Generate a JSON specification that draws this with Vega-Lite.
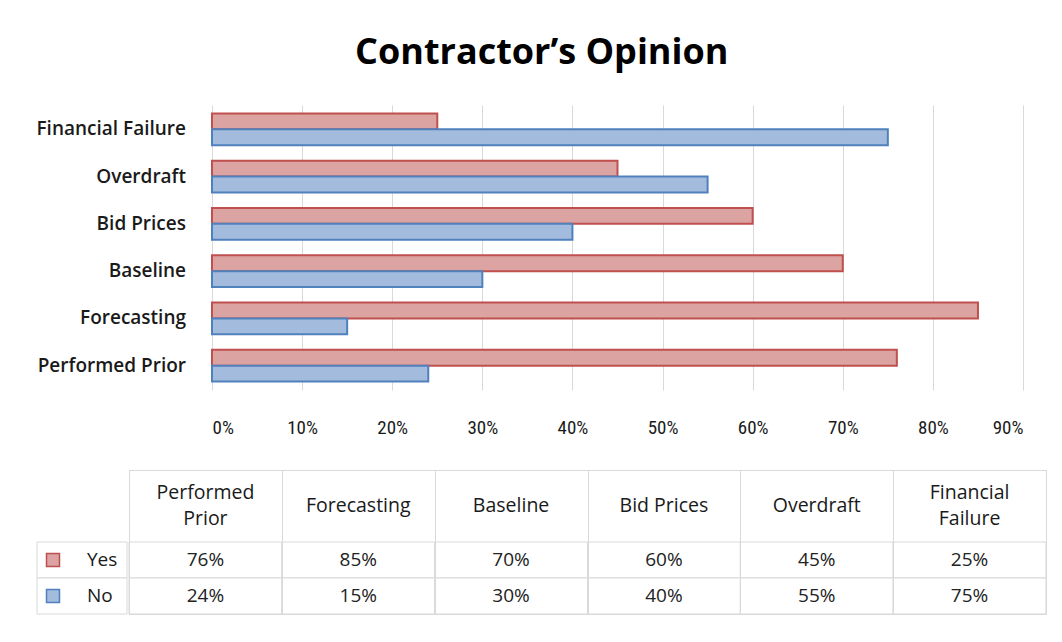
{
  "$schema": "https://vega.github.io/schema/vega-lite/v6.json",
  "background": "white",
  "padding": {"left": 36, "top": 35, "right": 10, "bottom": 10},
  "config": {"font": "Open Sans", "view": {"stroke": null}},
  "title": {"text": "Contractor’s Opinion", "fontSize": 36, "fontWeight": "bold", "color": "#000000", "anchor": "middle", "offset": 33, "font": "Open Sans"},
  "datasets": {
    "survey": [
      {"category": "Performed Prior", "series": "Yes", "value": 0.76},
      {"category": "Performed Prior", "series": "No", "value": 0.24},
      {"category": "Forecasting", "series": "Yes", "value": 0.85},
      {"category": "Forecasting", "series": "No", "value": 0.15},
      {"category": "Baseline", "series": "Yes", "value": 0.70},
      {"category": "Baseline", "series": "No", "value": 0.30},
      {"category": "Bid Prices", "series": "Yes", "value": 0.60},
      {"category": "Bid Prices", "series": "No", "value": 0.40},
      {"category": "Overdraft", "series": "Yes", "value": 0.45},
      {"category": "Overdraft", "series": "No", "value": 0.55},
      {"category": "Financial Failure", "series": "Yes", "value": 0.25},
      {"category": "Financial Failure", "series": "No", "value": 0.75}
    ],
    "headers1": [
      {"category": "Forecasting", "label": "Forecasting"},
      {"category": "Baseline", "label": "Baseline"},
      {"category": "Bid Prices", "label": "Bid Prices"},
      {"category": "Overdraft", "label": "Overdraft"}
    ],
    "headers2": [
      {"category": "Performed Prior", "label": "Performed\nPrior"},
      {"category": "Financial Failure", "label": "Financial\nFailure"}
    ]
  },
  "spacing": 32,
  "vconcat": [
    {
      "spacing": 0,
      "hconcat": [
        {
          "width": 174,
          "height": 285,
          "data": {"name": "survey"},
          "transform": [{"filter": "datum.series === 'Yes'"}],
          "mark": {"type": "text", "x": "width", "dx": -25, "align": "right", "baseline": "middle", "fontSize": 19, "fontWeight": 600, "color": "#1a1a1a"},
          "encoding": {
            "y": {
              "field": "category", "type": "nominal",
              "sort": ["Financial Failure", "Overdraft", "Bid Prices", "Baseline", "Forecasting", "Performed Prior"],
              "scale": {"type": "band", "paddingInner": 0.33, "paddingOuter": 0.18},
              "axis": null
            },
            "text": {"field": "category", "type": "nominal"}
          }
        },
        {
          "width": 811,
          "height": 285,
          "data": {"name": "survey"},
          "mark": {"type": "bar", "strokeWidth": 2},
          "encoding": {
            "y": {
              "field": "category", "type": "nominal",
              "sort": ["Financial Failure", "Overdraft", "Bid Prices", "Baseline", "Forecasting", "Performed Prior"],
              "scale": {"paddingInner": 0.33, "paddingOuter": 0.18},
              "axis": null
            },
            "yOffset": {"field": "series", "type": "nominal", "sort": ["Yes", "No"], "scale": {"paddingInner": 0, "paddingOuter": 0}},
            "x": {
              "field": "value", "type": "quantitative",
              "scale": {"domain": [0, 0.9], "nice": false},
              "axis": {"title": null, "format": ".0%", "values": [0, 0.1, 0.2, 0.3, 0.4, 0.5, 0.6, 0.7, 0.8, 0.9], "domain": false, "ticks": false, "labelPadding": 28, "gridColor": "#d9d9d9", "labelFont": "Liberation Sans Narrow, Roboto Condensed, Roboto, sans-serif", "labelFontSize": 19, "labelColor": "#1a1a1a"}
            },
            "fill": {"field": "series", "type": "nominal", "scale": {"domain": ["Yes", "No"], "range": ["#dba3a2", "#a3bbdd"]}, "legend": null},
            "stroke": {"field": "series", "type": "nominal", "scale": {"domain": ["Yes", "No"], "range": ["#c0504d", "#4f81bd"]}, "legend": null}
          }
        }
      ]
    },
    {
      "spacing": 0,
      "hconcat": [
        {
          "width": 90,
          "height": 144,
          "data": {"name": "survey"},
          "transform": [{"filter": "datum.category === 'Performed Prior'"}],
          "encoding": {
            "y": {"field": "series", "type": "nominal", "scale": {"type": "band", "domain": ["h1", "h2", "Yes", "No"], "paddingInner": 0, "paddingOuter": 0}, "axis": null}
          },
          "layer": [
            {"mark": {"type": "rect", "fill": "white", "stroke": "#d9d9d9", "strokeWidth": 1}},
            {
              "mark": {"type": "point", "shape": "square", "filled": true, "size": 169, "strokeWidth": 1.5, "opacity": 1},
              "encoding": {
                "x": {"datum": "sym", "type": "nominal", "scale": {"type": "band", "domain": ["sym", "lab"], "paddingInner": 0.059, "paddingOuter": 0.353, "align": 0}, "axis": null},
                "fill": {"field": "series", "type": "nominal", "scale": {"domain": ["Yes", "No"], "range": ["#dba3a2", "#a3bbdd"]}, "legend": null},
                "stroke": {"field": "series", "type": "nominal", "scale": {"domain": ["Yes", "No"], "range": ["#c0504d", "#4f81bd"]}, "legend": null}
              }
            },
            {
              "mark": {"type": "text", "align": "left", "fontSize": 19, "color": "#1a1a1a"},
              "encoding": {
                "x": {"datum": "lab", "type": "nominal"},
                "text": {"field": "series", "type": "nominal"}
              }
            }
          ]
        },
        {
          "width": 917,
          "height": 144,
          "view": {"stroke": "#d9d9d9"},
          "encoding": {
            "x": {
              "field": "category", "type": "nominal",
              "sort": ["Performed Prior", "Forecasting", "Baseline", "Bid Prices", "Overdraft", "Financial Failure"],
              "scale": {"type": "band", "paddingInner": 0, "paddingOuter": 0},
              "axis": {"title": null, "labels": false, "ticks": false, "domain": false, "grid": true, "tickBand": "extent", "gridColor": "#d9d9d9", "orient": "top"}
            },
            "y": {"field": "series", "type": "nominal", "scale": {"type": "band", "domain": ["h1", "h2", "Yes", "No"], "paddingInner": 0, "paddingOuter": 0}, "axis": null}
          },
          "layer": [
            {"data": {"name": "survey"}, "mark": {"type": "rect", "fill": "white", "stroke": "#d9d9d9", "strokeWidth": 1}},
            {
              "data": {"name": "survey"},
              "mark": {"type": "text", "fontSize": 19, "color": "#222222"},
              "encoding": {"text": {"field": "value", "type": "quantitative", "format": ".0%"}}
            },
            {
              "data": {"name": "headers1"},
              "mark": {"type": "text", "fontSize": 19.5, "color": "#1a1a1a"},
              "encoding": {
                "y": {"datum": "h2", "type": "nominal", "bandPosition": 0},
                "text": {"field": "label", "type": "nominal"}
              }
            },
            {
              "data": {"name": "headers2"},
              "mark": {"type": "text", "fontSize": 19.5, "lineBreak": "\n", "lineHeight": 26, "color": "#1a1a1a"},
              "encoding": {
                "y": {"datum": "h1", "type": "nominal", "bandPosition": 0.64},
                "text": {"field": "label", "type": "nominal"}
              }
            }
          ]
        }
      ]
    }
  ]
}
